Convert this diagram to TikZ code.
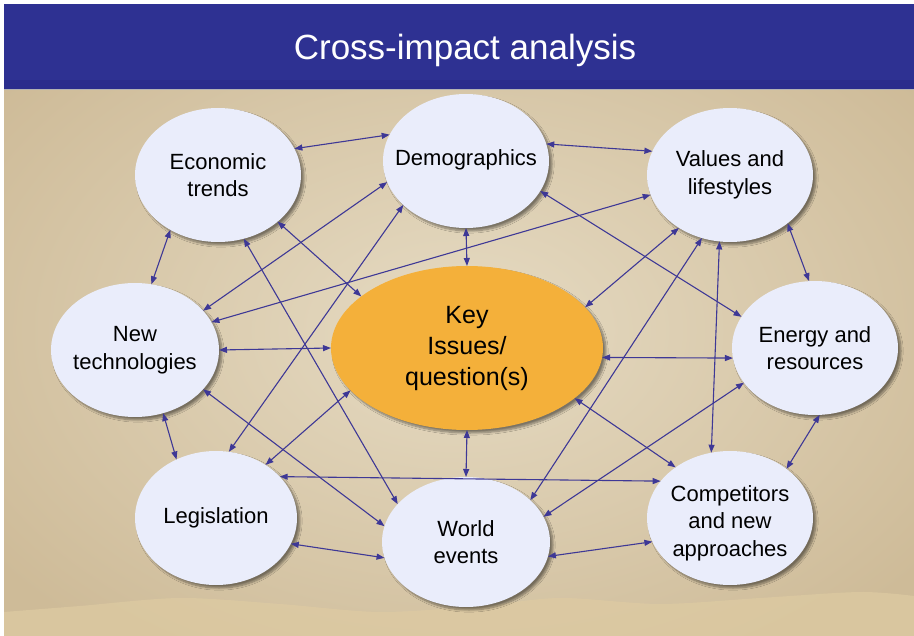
\documentclass[tikz,border=0pt]{standalone}
\usepackage{fontspec}
\setmainfont{Liberation Sans}
\usetikzlibrary{shapes.geometric,arrows.meta,shadows.blur}
\definecolor{titleblue}{RGB}{46,49,146}
\definecolor{titledark}{RGB}{42,45,140}
\definecolor{bgbase}{RGB}{206,187,152}
\definecolor{bglight}{RGB}{230,219,195}
\definecolor{dune}{RGB}{222,203,162}
\definecolor{bubble}{RGB}{234,237,251}
\definecolor{keyorange}{RGB}{244,176,58}
\definecolor{arrowblue}{RGB}{62,56,150}
\tikzset{
  bub/.style={ellipse, fill=bubble, inner xsep=-25pt, inner ysep=-12pt, outer sep=0pt,
    align=center, font=\fontsize{22}{27.5}\selectfont, text=black,
    blur shadow={shadow xshift=3pt, shadow yshift=-3pt, shadow blur steps=8, shadow opacity=45}},
  keybub/.style={bub, fill=keyorange, font=\fontsize{25}{31}\selectfont},
  conn/.style={draw=arrowblue, line width=1.1pt, {Triangle[length=8pt,width=6pt]}-{Triangle[length=8pt,width=6pt]}}
}
\begin{document}
\begin{tikzpicture}[x=1pt,y=-1pt]
\useasboundingbox (0,0) rectangle (914,636);
\fill[white] (0,0) rectangle (914,636);
% background
\begin{scope}
\clip (4,89) rectangle (914,636);
\fill[bgbase] (4,89) rectangle (914,636);
\shade[inner color=bglight, outer color=bgbase] (-120,-60) rectangle (1040,720);
\shade[top color=bgbase!0!white, bottom color=bgbase, opacity=0] (4,540) rectangle (914,600);
\fill[dune, opacity=0.7] plot[smooth] coordinates {(4,612) (80,606) (180,598) (280,604) (380,612) (480,606) (560,598) (660,604) (760,598) (860,592) (914,596)} -- (914,636) -- (4,636) -- cycle;
\end{scope}
% title bar
\fill[titleblue] (4,4) rectangle (914,89);
\fill[titledark] (4,80) rectangle (914,89);
\draw[gray!60, line width=1pt] (4,89.5) -- (914,89.5);
\node[anchor=base, text=white, font=\fontsize{35}{42}\selectfont] (title) at (465,60) {Cross-impact analysis};
% bubbles
\node[bub, minimum width=166pt, minimum height=134pt] (econ) at (218,175) {Economic\\trends};
\node[bub, minimum width=166pt, minimum height=134pt] (demo) at (466,161) {\raisebox{6pt}{Demographics}};
\node[bub, minimum width=166pt, minimum height=134pt] (vals) at (730,175) {Values and\\lifestyles};
\node[bub, minimum width=168pt, minimum height=134pt] (tech) at (135,350) {New\\technologies};
\node[keybub, minimum width=272pt, minimum height=164pt] (key) at (467,348) {Key\\Issues/\\question(s)};
\node[bub, minimum width=166pt, minimum height=134pt] (energy) at (815,348) {Energy and\\resources};
\node[bub, minimum width=162pt, minimum height=134pt] (legis) at (216,518) {Legislation};
\node[bub, minimum width=168pt, minimum height=130pt] (world) at (466,542) {World\\events};
\node[bub, minimum width=166pt, minimum height=134pt] (comp) at (730,518) {\rule{0pt}{26pt}Competitors\\and new\\approaches};
% connectors
\draw[conn] (econ.19) -- (demo.161);
\draw[conn] (demo.12) -- (vals.163);
\draw[conn] (econ.229) -- (tech.76);
\draw[conn] (vals.-40) -- (energy.95);
\draw[conn] (tech.-66) -- (legis.124);
\draw[conn] (energy.-86) -- (comp.41);
\draw[conn] (legis.-19) -- (world.191);
\draw[conn] (world.-10) -- (comp.197);
\draw[conn] (tech.0) -- (key.180);
\draw[conn] (key.-4) -- (energy.187);
\draw[conn] (demo.-90) -- (key.90);
\draw[conn] (key.-90) -- (world.90);
\draw[conn] (econ.-38) -- (key.154);
\draw[conn] (econ.-68) -- (world.151);
\draw[conn] (demo.195) -- (tech.30);
\draw[conn] (demo.215) -- (legis.79);
\draw[conn] (vals.194) -- (tech.20);
\draw[conn] (demo.-22) -- (energy.157);
\draw[conn] (vals.226) -- (key.19);
\draw[conn] (vals.246) -- (world.33);
\draw[conn] (vals.261) -- (comp.106);
\draw[conn] (key.200) -- (legis.47);
\draw[conn] (tech.-30) -- (world.169);
\draw[conn] (legis.33) -- (comp.152);
\draw[conn] (energy.206) -- (world.18);
\draw[conn] (key.-25) -- (comp.137);
\end{tikzpicture}
\end{document}
